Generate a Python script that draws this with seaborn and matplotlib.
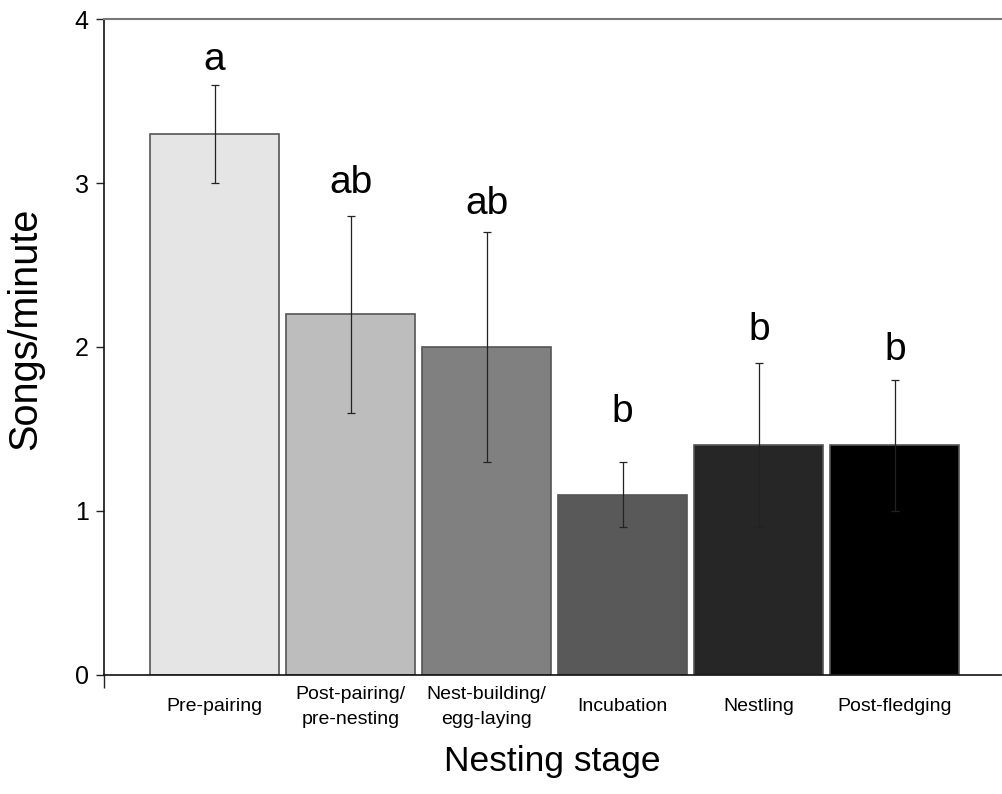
import pandas as pd
import matplotlib.pyplot as plt
import seaborn as sns

# song rate by nesting stage (mean +/- error)
stages = [
    "Pre-pairing",
    "Post-pairing/\npre-nesting",
    "Nest-building/\negg-laying",
    "Incubation",
    "Nestling",
    "Post-fledging",
]
songs_per_min = [3.3, 2.2, 2.0, 1.1, 1.4, 1.4]
err = [0.3, 0.6, 0.7, 0.2, 0.5, 0.4]
letters = ["a", "ab", "ab", "b", "b", "b"]
letter_y = [3.69, 2.94, 2.81, 1.54, 2.04, 1.92]
bar_colors = ["#e5e5e5", "#bdbdbd", "#808080", "#595959", "#262626", "#000000"]

df = pd.DataFrame({"stage": stages, "rate": songs_per_min})

sns.set_style("white")
plt.rcParams["font.family"] = ["Liberation Sans", "DejaVu Sans"]
plt.rcParams["text.color"] = "black"
plt.rcParams["axes.labelcolor"] = "black"
plt.rcParams["xtick.color"] = "black"
plt.rcParams["ytick.color"] = "black"

fig = plt.figure(figsize=(10.03, 7.94), dpi=100)
ax = fig.add_axes([0.1037, 0.150, 0.8943, 0.826])

sns.barplot(
    data=df,
    x="stage",
    y="rate",
    hue="stage",
    palette=bar_colors,
    legend=False,
    width=0.95,
    edgecolor="#555555",
    linewidth=1.2,
    errorbar=None,
    ax=ax,
)

ax.errorbar(
    x=list(range(len(stages))),
    y=songs_per_min,
    yerr=err,
    fmt="none",
    ecolor="#222222",
    elinewidth=0.9,
    capsize=3,
    capthick=0.9,
    zorder=3,
)

# significance letters
for i, (lab, yy) in enumerate(zip(letters, letter_y)):
    ax.text(i, yy, lab, ha="center", va="baseline", fontsize=28, color="black")

# axes, ticks and labels
xmin, xmax = -0.8125, 5.78
ax.set_xlim(xmin, xmax)
ax.set_ylim(0, 4)
ax.set_yticks([0, 1, 2, 3, 4])
ax.tick_params(axis="y", direction="out", length=6, width=1, pad=5,
               labelsize=18, left=True, color="#222222", labelcolor="black")
ax.tick_params(axis="x", which="major", length=0, pad=23, labelsize=14,
               labelcolor="black")
ax.set_xticks(range(len(stages)))
ax.set_xticklabels(stages, linespacing=1.6)
for t in ax.get_xticklabels():
    t.set_va("center")
ax.set_xticks([xmin], minor=True)
ax.tick_params(axis="x", which="minor", direction="out", length=9, width=1,
               bottom=True, color="#222222")

ax.set_xlabel("Nesting stage", fontsize=25.5)
ax.set_ylabel("Songs/minute", fontsize=28.5)
ax.xaxis.set_label_coords(0.5, -0.107)
ax.yaxis.set_label_coords(-0.067, 0.528)

for side in ["left", "bottom"]:
    ax.spines[side].set_color("#111111")
    ax.spines[side].set_linewidth(1.2)
ax.spines["top"].set_color("#777777")
ax.spines["top"].set_linewidth(1.5)
ax.spines["right"].set_visible(False)

fig.savefig("out.png", dpi=100)
